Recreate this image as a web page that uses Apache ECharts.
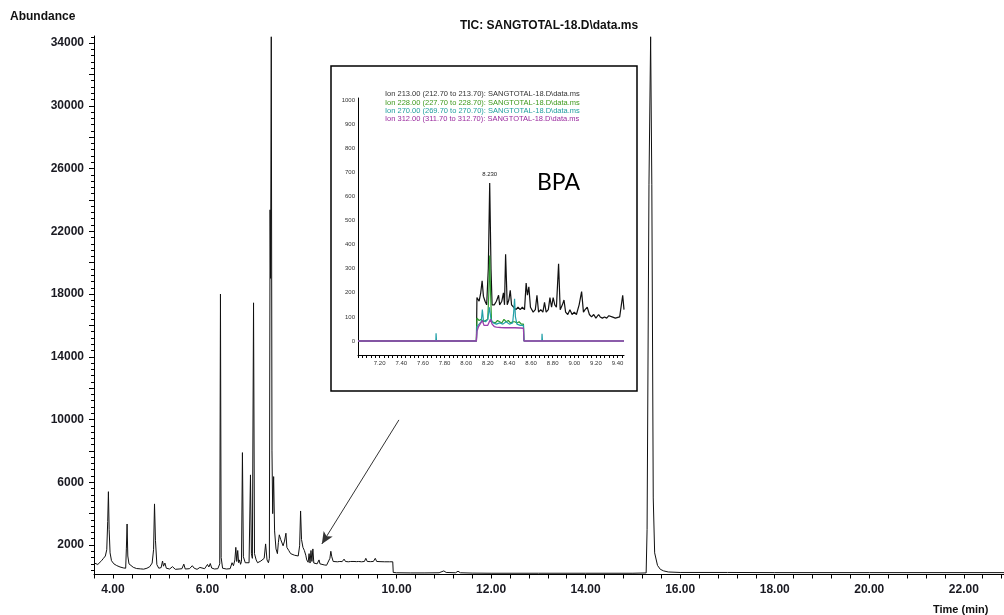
<!DOCTYPE html>
<html><head><meta charset="utf-8">
<script src="https://cdn.jsdelivr.net/npm/echarts@6/dist/echarts.min.js"></script>
<style>html,body{margin:0;padding:0;background:#fff}#c{width:1004px;height:615px}</style>
</head><body><div id="c"></div>
<script>
// ---- Main TIC chromatogram ----
const ticTime = [3.60,3.64,3.68,3.72,3.76,3.80,3.84,3.87,3.89,3.905,3.92,3.94,3.97,4.02,4.08,4.15,4.22,4.27,4.285,4.30,4.315,4.34,4.38,4.43,4.50,4.58,4.65,4.72,4.78,4.83,4.86,4.88,4.90,4.93,4.97,5.02,5.05,5.07,5.10,5.13,5.20,5.26,5.32,5.40,5.46,5.50,5.53,5.62,5.68,5.72,5.78,5.84,5.88,5.94,6.00,6.03,6.06,6.09,6.15,6.22,6.26,6.275,6.29,6.32,6.40,6.48,6.52,6.55,6.58,6.60,6.62,6.64,6.66,6.68,6.70,6.72,6.74,6.76,6.80,6.84,6.88,6.91,6.93,6.95,6.975,6.995,7.03,7.06,7.10,7.13,7.16,7.20,7.23,7.26,7.29,7.31,7.325,7.335,7.35,7.365,7.38,7.40,7.42,7.45,7.48,7.50,7.52,7.55,7.58,7.60,7.63,7.66,7.68,7.72,7.76,7.80,7.84,7.88,7.92,7.95,7.97,7.99,8.02,8.05,8.08,8.10,8.13,8.15,8.17,8.19,8.21,8.23,8.25,8.28,8.32,8.36,8.38,8.42,8.47,8.52,8.56,8.59,8.61,8.63,8.66,8.70,8.75,8.80,8.85,8.89,8.92,8.98,9.03,9.07,9.10,9.15,9.20,9.26,9.32,9.35,9.38,9.45,9.51,9.55,9.58,9.65,9.75,9.85,9.92,9.93,10.0,10.3,10.6,10.9,11.0,11.05,11.25,11.3,11.35,11.6,12.0,13.0,14.0,15.0,15.28,15.30,15.34,15.375,15.40,15.43,15.46,15.52,15.58,15.65,15.75,16.0,17.0,18.0,20.0,22.85];
const ticAbund = [860,830,760,820,1000,1150,1300,1700,3500,5400,3000,1500,1000,800,690,600,540,520,1800,3340,1300,800,720,580,500,480,460,520,620,850,1700,4620,2300,750,520,560,980,650,850,520,470,620,450,470,490,780,470,490,680,520,450,570,450,490,760,600,820,530,470,490,800,18000,1200,520,470,490,870,680,1050,1850,950,1650,870,1050,770,950,7890,1250,870,770,870,6470,1450,1150,17440,1450,1050,870,770,980,870,1150,2070,1050,870,1150,23370,19000,34400,8000,4000,6360,2900,1750,1450,2150,2650,2350,2250,1950,2250,2750,1850,1650,1450,1500,1350,1250,1300,1950,4170,2350,1850,1650,1350,1050,900,1450,850,1650,950,1750,850,800,800,1050,800,750,730,710,730,1150,1600,1250,950,1000,930,950,940,1100,950,930,950,1050,950,940,950,930,950,1150,950,940,950,1150,950,940,930,930,930,250,230,220,220,230,350,250,230,330,230,210,200,200,200,200,220,3000,25000,34400,25000,5000,1500,700,450,350,280,250,250,240,240,240];

// ---- Inset: extracted ion chromatograms ----
const ion213Time = [7.00,8.095,8.10,8.12,8.135,8.148,8.16,8.175,8.19,8.205,8.218,8.23,8.24,8.26,8.28,8.30,8.31,8.33,8.345,8.355,8.365,8.38,8.395,8.408,8.42,8.44,8.46,8.48,8.50,8.52,8.54,8.555,8.567,8.58,8.595,8.62,8.64,8.655,8.67,8.69,8.71,8.725,8.74,8.76,8.775,8.79,8.805,8.82,8.835,8.855,8.87,8.89,8.905,8.92,8.94,8.96,8.98,9.00,9.02,9.045,9.068,9.085,9.10,9.12,9.14,9.16,9.18,9.20,9.225,9.24,9.26,9.28,9.30,9.32,9.35,9.38,9.42,9.435,9.448,9.46];
const ion213Abund = [0,0,180,165,200,250,185,165,150,300,655,300,150,150,165,190,150,165,200,150,360,150,170,210,150,140,130,140,130,140,130,240,190,225,140,120,130,190,120,130,120,160,120,130,180,140,180,150,140,320,130,150,170,120,110,130,110,120,110,150,205,120,130,140,110,100,110,95,110,100,95,100,95,105,100,95,100,95,190,130];
const ion228Time = [7.00,8.095,8.10,8.12,8.14,8.16,8.18,8.20,8.21,8.218,8.226,8.235,8.25,8.27,8.29,8.31,8.33,8.35,8.37,8.39,8.41,8.43,8.45,8.47,8.49,8.51,8.53,8.535,9.46];
const ion228Abund = [0,0,95,85,90,80,85,90,200,355,200,80,85,75,85,80,75,90,80,85,75,80,80,75,80,70,70,0,0];
const ion270Time = [7.00,7.72,7.722,7.726,8.095,8.10,8.12,8.14,8.15,8.16,8.18,8.20,8.215,8.23,8.25,8.28,8.31,8.34,8.37,8.40,8.43,8.44,8.448,8.456,8.47,8.50,8.53,8.535,8.70,8.702,8.706,9.46];
const ion270Abund = [0,0,32,0,0,60,70,80,130,85,80,90,140,90,75,70,75,70,80,70,75,120,175,100,70,65,65,0,0,30,0,0];
const ion312Time = [7.00,8.095,8.10,8.115,8.13,8.15,8.165,8.18,8.20,8.225,8.24,8.26,8.28,8.32,8.36,8.40,8.45,8.50,8.53,8.535,9.46];
const ion312Abund = [0,0,40,60,55,85,65,70,65,90,70,60,58,56,55,55,55,54,53,0,0];

const ionNames = [
  'Ion 213.00 (212.70 to 213.70): SANGTOTAL-18.D\\data.ms',
  'Ion 228.00 (227.70 to 228.70): SANGTOTAL-18.D\\data.ms',
  'Ion 270.00 (269.70 to 270.70): SANGTOTAL-18.D\\data.ms',
  'Ion 312.00 (311.70 to 312.70): SANGTOTAL-18.D\\data.ms'
];

// ---- Tick labels ----
const mainYLabels = [2000,6000,10000,14000,18000,22000,26000,30000,34000];
const mainXLabels = ['4.00','6.00','8.00','10.00','12.00','14.00','16.00','18.00','20.00','22.00'];
const insetYLabels = [0,100,200,300,400,500,600,700,800,900,1000];
const insetXLabels = ['7.20','7.40','7.60','7.80','8.00','8.20','8.40','8.60','8.80','9.00','9.20','9.40'];

const zip = (a,b) => a.map((t,i)=>[t,b[i]]);
const FONT = 'Liberation Sans';
const rng = (a,b,s) => { const r=[]; for(let k=0; a+k*s<=b+1e-9; k++) r.push(+(a+k*s).toFixed(4)); return r; };

const mainYMajor = rng(2000,34000,2000);
const mainYMinor = rng(400,34400,400);
const mainXTicks = rng(3.6,22.8,0.4);
const insetXTicks = rng(7.0,9.44,0.04);

const chart = echarts.init(document.getElementById('c'));
const labelStyle = {fontFamily:FONT, fontWeight:'bold', fontSize:12, color:'#1a1a22'};
const insetLbl = {fontFamily:FONT, fontSize:6, color:'#333'};

chart.setOption({
  animation:false,
  backgroundColor:'#fff',
  title:[
    {text:'TIC: SANGTOTAL-18.D\\data.ms', left:549, top:20, textAlign:'center', padding:0,
     textStyle:{fontFamily:FONT, fontWeight:'bold', fontSize:12, color:'#111'}},
    {text:'Abundance', left:10, top:11, padding:0,
     textStyle:{fontFamily:FONT, fontWeight:'bold', fontSize:12, color:'#111'}},
    {text:'Time (min)', left:933, top:604, padding:0,
     textStyle:{fontFamily:FONT, fontWeight:'bold', fontSize:11, color:'#111'}}
  ],
  legend:{
    orient:'vertical', left:380, top:90, padding:0, itemGap:0, itemWidth:0, itemHeight:0,
    icon:'none', selectedMode:false,
    textStyle:{fontFamily:FONT, fontSize:7.5, lineHeight:8.3, padding:0},
    data:[
      {name:ionNames[0], textStyle:{color:'#333'}},
      {name:ionNames[1], textStyle:{color:'#3f9a1e'}},
      {name:ionNames[2], textStyle:{color:'#1f9e9e'}},
      {name:ionNames[3], textStyle:{color:'#9a2a9e'}}
    ]
  },
  grid:[
    {left:94, right:0, top:36, bottom:40.5, outerBoundsMode:'none'},
    {left:358, right:380, top:98, bottom:260, outerBoundsMode:'none'}
  ],
  xAxis:[
    {type:'value', gridIndex:0, min:3.6, max:22.85,
     axisLine:{onZero:false, lineStyle:{color:'#000', width:1}},
     axisTick:{customValues:mainXTicks, length:4, lineStyle:{color:'#000'}},
     axisLabel:{customValues:mainXLabels.map(Number), formatter:v=>v.toFixed(2), margin:9, ...labelStyle},
     splitLine:{show:false}},
    {type:'value', gridIndex:1, min:7.0, max:9.46,
     axisLine:{onZero:false, lineStyle:{color:'#000', width:1}},
     axisTick:{customValues:insetXTicks, length:3, lineStyle:{color:'#000'}},
     axisLabel:{customValues:insetXLabels.map(Number), formatter:v=>v.toFixed(2), margin:5, ...insetLbl},
     splitLine:{show:false}}
  ],
  yAxis:[
    {type:'value', gridIndex:0, position:'left', min:120, max:34450,
     axisLine:{show:true, onZero:false, lineStyle:{color:'#000', width:1}},
     axisTick:{show:true, customValues:mainYMajor, length:5, lineStyle:{color:'#000'}},
     axisLabel:{customValues:mainYLabels, formatter:v=>String(v), margin:10, ...labelStyle},
     splitLine:{show:false}},
    {type:'value', gridIndex:0, position:'left', offset:0, min:120, max:34450,
     axisLine:{show:false, onZero:false},
     axisTick:{show:true, customValues:mainYMinor, length:3, lineStyle:{color:'#000'}},
     axisLabel:{show:false},
     splitLine:{show:false}},
    {type:'value', gridIndex:1, position:'left', min:-58, max:1008,
     axisLine:{show:true, onZero:false, lineStyle:{color:'#000', width:1}},
     axisTick:{show:false},
     axisLabel:{customValues:insetYLabels, formatter:v=>String(v), margin:3, ...insetLbl},
     splitLine:{show:false}}
  ],
  series:[
    {name:'TIC', type:'line', xAxisIndex:0, yAxisIndex:0, data:zip(ticTime,ticAbund),
     showSymbol:false, symbol:'none', lineStyle:{color:'#111', width:1}, z:2,
     markLine:{silent:true, symbol:['none','arrow'], symbolSize:[8,12],
       lineStyle:{color:'#333', width:1, type:'solid'}, label:{show:false},
       data:[[{coord:[10.05,9975]},{coord:[8.42,2066]}]]}},
    {name:ionNames[0], type:'line', xAxisIndex:1, yAxisIndex:2, data:zip(ion213Time,ion213Abund),
     showSymbol:false, symbol:'none', lineStyle:{color:'#111', width:1.2}, itemStyle:{color:'#111'},
     markPoint:{symbol:'circle', symbolSize:0, silent:true,
       label:{show:true, position:'top', distance:6, formatter:'8.230', fontFamily:FONT, fontSize:6, color:'#222'},
       data:[{coord:[8.218,655]}]}},
    {name:ionNames[1], type:'line', xAxisIndex:1, yAxisIndex:2, data:zip(ion228Time,ion228Abund),
     showSymbol:false, symbol:'none', lineStyle:{color:'#2e9a2e', width:1.2}, itemStyle:{color:'#2e9a2e'}},
    {name:ionNames[2], type:'line', xAxisIndex:1, yAxisIndex:2, data:zip(ion270Time,ion270Abund),
     showSymbol:false, symbol:'none', lineStyle:{color:'#23a0a8', width:1.2}, itemStyle:{color:'#23a0a8'}},
    {name:ionNames[3], type:'line', xAxisIndex:1, yAxisIndex:2, data:zip(ion312Time,ion312Abund),
     showSymbol:false, symbol:'none', lineStyle:{color:'#9a3fae', width:1.3}, itemStyle:{color:'#9a3fae'}}
  ],
  graphic:[
    {type:'rect', shape:{x:331, y:66, width:306, height:325}, style:{fill:null, stroke:'#000', lineWidth:1.5}, z:10},
    {type:'text', left:537, top:171, style:{text:'BPA', fontFamily:'Lato', fontSize:23, fill:'#000'}, z:10}
  ]
});
</script></body></html>
